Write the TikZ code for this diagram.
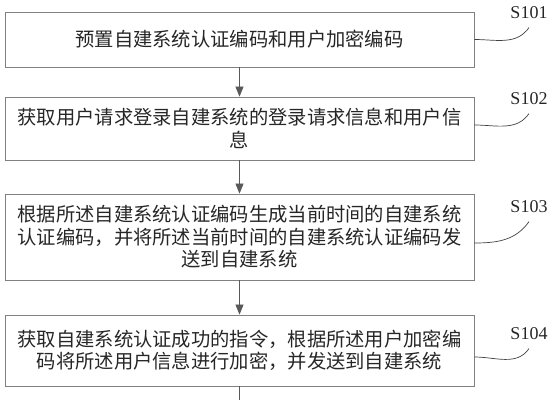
\documentclass[tikz,border=0pt]{standalone}
\usepackage{fontspec}
\usepackage{xcolor}
\setmainfont{Liberation Serif}
\newfontfamily\cjkfont{Noto Sans CJK SC}
\usetikzlibrary{arrows.meta}

\begin{document}
\begin{tikzpicture}[
x=1pt, y=-1pt,
% Style for the step boxes
box style/.style={
rectangle,
draw=black!50,
line width=0.8pt,
minimum width=469pt,
align=center,
inner sep=0pt,
text=black!85,
font=\cjkfont\fontsize{19.3}{22.5}\selectfont
},
% Style for the step numbers
tag style/.style={
text=black!85,
font=\fontsize{18}{20}\selectfont
},
% Style for the arrows and the leader curves
flow/.style={draw=black!65, line width=0.7pt, -{Triangle[width=8pt,length=10pt]}},
lead/.style={draw=black!75, line width=0.7pt}
]

\useasboundingbox (0,0) rectangle (555,400);

% The four steps, top to bottom
\node[box style, minimum height=55pt] (s1) at (239.5,39.5) {预置自建系统认证编码和用户加密编码};
\node[box style, minimum height=63pt] (s2) at (239.5,128.5) {获取用户请求登录自建系统的登录请求信息和用户信\\息};
\node[box style, minimum height=86pt] (s3) at (239.5,237) {根据所述自建系统认证编码生成当前时间的自建系统\\认证编码，并将所述当前时间的自建系统认证编码发\\送到自建系统};
\node[box style, minimum height=71pt] (s4) at (239.5,350.5) {获取自建系统认证成功的指令，根据所述用户加密编\\码将所述用户信息进行加密，并发送到自建系统};

% Step numbers
\node[tag style] (t1) at (529,13) {S101};
\node[tag style] (t2) at (529,99) {S102};
\node[tag style] (t3) at (529,207) {S103};
\node[tag style] (t4) at (529,334) {S104};

% Arrows between the steps
\foreach \a/\b in {s1/s2, s2/s3, s3/s4} {
\draw[flow] (\a) -- (\b);
}

% The flow goes on below the last step
\coordinate (more) at (239.5,400);
\draw[lead, draw=black!65] (s4) -- (more);

% Leader curves from the boxes to the step numbers
\draw[lead] (s1.east) to[out=0, in=235] ([yshift=-5pt]t1.south);
\draw[lead] ([yshift=3.5pt]s2.east) to[out=0, in=235] ([yshift=-5pt]t2.south);
\draw[lead] ([yshift=-6pt]s3.east) to[out=0, in=235] ([yshift=-5pt]t3.south);
\draw[lead] ([yshift=-6.5pt]s4.east) to[out=0, in=235] ([yshift=-5pt]t4.south);

\end{tikzpicture}
\end{document}
